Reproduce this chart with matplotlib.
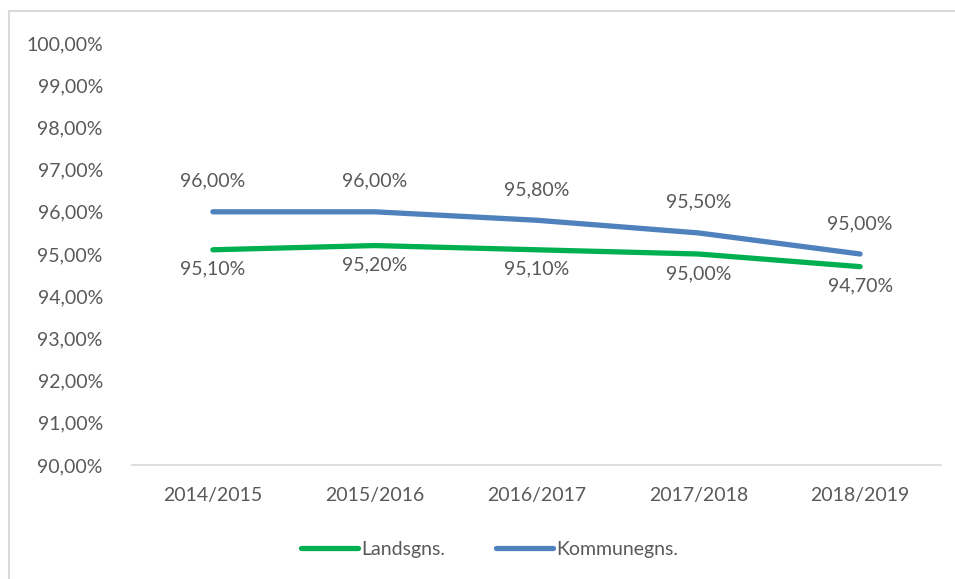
import matplotlib.pyplot as plt
from matplotlib.ticker import FuncFormatter
from matplotlib.patches import Rectangle

# data
years = ['2014/2015', '2015/2016', '2016/2017', '2017/2018', '2018/2019']
landsgns = [95.1, 95.2, 95.1, 95.0, 94.7]
kommunegns = [96.0, 96.0, 95.8, 95.5, 95.0]

text_col = '#595959'
green = '#00B050'
blue = '#4F81BD'
fs = 14

plt.rcParams['font.family'] = ['Lato', 'DejaVu Sans']

fig = plt.figure(figsize=(9.55, 5.79), dpi=100)
ax = fig.add_axes([132 / 955, 1 - 465 / 579, 809 / 955, (465 - 43) / 579])

x = list(range(len(years)))
ax.plot(x, landsgns, color=green, lw=3.8, solid_capstyle='round', label='Landsgns.')
ax.plot(x, kommunegns, color=blue, lw=3.8, solid_capstyle='round', label='Kommunegns.')

def pct(v):
    return f'{v:.2f}'.replace('.', ',') + '%'

for xi, v in zip(x, kommunegns):
    ax.annotate(pct(v), (xi, v), xytext=(0, 22), textcoords='offset points',
                ha='center', va='center', fontsize=fs, color=text_col)
for xi, v in zip(x, landsgns):
    ax.annotate(pct(v), (xi, v), xytext=(0, -14), textcoords='offset points',
                ha='center', va='center', fontsize=fs, color=text_col)

ax.set_xlim(-0.5, len(years) - 0.5)
ax.set_ylim(90, 100)
ax.set_yticks(range(90, 101))
ax.yaxis.set_major_formatter(FuncFormatter(lambda v, p: pct(v)))
ax.set_xticks(x)
ax.set_xticklabels(years)
ax.tick_params(axis='both', length=0, labelsize=fs, colors=text_col)
ax.tick_params(axis='y', pad=21)
ax.tick_params(axis='x', pad=16)

for s in ['top', 'right', 'left']:
    ax.spines[s].set_visible(False)
ax.spines['bottom'].set_color('#D9D9D9')
ax.spines['bottom'].set_linewidth(1.2)

leg = fig.legend(loc='center', bbox_to_anchor=(0.513, 1 - 549 / 579), ncol=2,
                 frameon=False, fontsize=fs, handlelength=2.9,
                 handletextpad=0.2, columnspacing=2.6)
for t in leg.get_texts():
    t.set_color(text_col)

# outer chart border (partly cropped in the reference)
fig.patches.append(Rectangle((9 / 955, -0.05), 1.1, 1 - 11 / 579 + 0.05,
                             transform=fig.transFigure, fill=False,
                             edgecolor='#D9D9D9', lw=1.5))

fig.savefig('out.png', dpi=100)
